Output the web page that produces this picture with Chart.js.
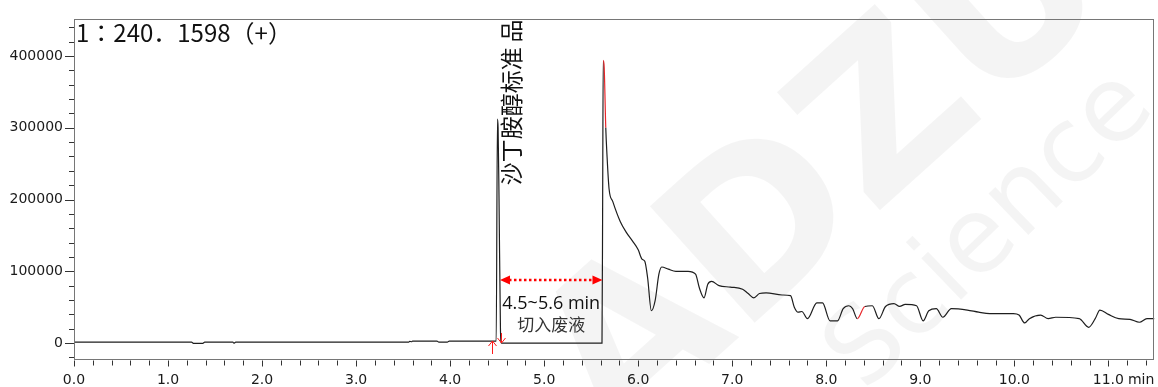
<!DOCTYPE html>
<html>
<head>
<meta charset="utf-8">
<script src="https://cdn.jsdelivr.net/npm/chart.js@4/dist/chart.umd.min.js"></script>
<style>
  html, body { margin: 0; padding: 0; background: #fff; }
  #wrap { width: 1158px; height: 387px; }
</style>
</head>
<body>
<div id="wrap"><canvas id="tic" width="1158" height="387"></canvas></div>
<script>
// retention time (min) and intensity of the ion trace
const times = [
  0, 1.25, 1.27, 1.37, 1.39, 1.69, 1.70, 1.72, 3.56, 3.57, 3.59, 3.60, 3.86, 3.88, 3.97, 3.99, 4.49,
  4.503, 4.51, 4.52, 4.535, 4.545, 5.615, 5.622, 5.628, 5.638, 5.655, 5.668, 5.69,
  5.73, 5.81, 5.87, 5.94, 6.00, 6.04, 6.07, 6.10, 6.14, 6.18,
  6.22, 6.25, 6.32, 6.40, 6.53, 6.61, 6.65, 6.70, 6.74, 6.78,
  6.86, 6.98, 7.11, 7.17, 7.23, 7.29, 7.36, 7.53, 7.62, 7.66,
  7.70, 7.74, 7.80, 7.90, 7.96, 8.04, 8.12, 8.18, 8.24, 8.28,
  8.33, 8.41, 8.49, 8.56, 8.63, 8.72, 8.78, 8.84, 8.96, 9.03,
  9.09, 9.17, 9.24, 9.33, 9.50, 9.62, 9.74, 9.99, 10.05, 10.11,
  10.16, 10.28, 10.36, 10.44, 10.69, 10.79, 10.86, 10.91, 11.00, 11.11,
  11.23, 11.33, 11.41, 11.49
];
const signal = [
  1200, 1200, -300, -300, 1200, 1200, -200, 1200, 1200, 2500, 1800, 2800, 2800, 1200, 1200, 2800, 2800,
  312000, 300000, 200000, 20000, 0, 0, 200000, 394000, 385000, 300000, 262000, 215000,
  197000, 169000, 155000, 142000, 130000, 117000, 114000, 91000, 45000, 59000,
  96000, 106000, 103000, 100000, 100000, 96000, 77000, 63000, 82000, 86000,
  80000, 78000, 75000, 69000, 63000, 69000, 70000, 67000, 66000, 50000,
  43000, 44000, 34000, 56000, 56000, 31000, 31000, 48000, 52000, 48000,
  34000, 51000, 52000, 34000, 51000, 55000, 51000, 54000, 52000, 31000,
  45000, 48000, 36000, 48000, 46000, 43000, 41000, 41000, 39000, 28000,
  34000, 39000, 34000, 36000, 34000, 22000, 34000, 46000, 40000, 34000,
  33000, 29000, 34000, 34000
];

const xRange = [0, 11.49];
const yRange = [-22900, 451000];
const xStep = 0.2;
const yStep = 20000;
const yLabelStep = 100000;
const xUnit = 'min';

const title = '1：240．1598（+）';
const peakLabel = '沙丁胺醇标准\u2009品';
const peakTime = 4.503;
const cutWindow = [4.53, 5.62];
const cutLevel = 88000;
const cutText = ['4.5~5.6 min', '切入废液'];
const markerTimes = [4.445, 4.545];
const redSpans = [[5.628, 5.645], [8.30, 8.34]];

const tickFont = { family: '"DejaVu Sans", sans-serif', size: 14 };

const inRed = v => redSpans.some(s => v >= s[0] && v < s[1]);

// evenly stepped ticks inside [min, max], rounded to kill float drift
function stepTicks(min, max, step) {
  const out = [];
  for (let k = Math.ceil(min / step - 1e-9); k * step <= max + 1e-9; k++) {
    out.push({ value: Math.round(k * step * 1e6) / 1e6 });
  }
  return out;
}

const watermark = {
  id: 'watermark',
  beforeDraw(chart) {
    const ctx = chart.ctx;
    ctx.save();
    ctx.fillStyle = 'rgba(0,0,0,0.042)';
    ctx.textAlign = 'center';
    ctx.textBaseline = 'middle';
    ctx.translate(830, 180);
    ctx.rotate(-42 * Math.PI / 180);
    ctx.font = 'bold 215px "DejaVu Sans", sans-serif';
    ctx.fillText('ADZU', 0, 0);
    ctx.restore();
    ctx.save();
    ctx.fillStyle = 'rgba(0,0,0,0.042)';
    ctx.textAlign = 'center';
    ctx.textBaseline = 'middle';
    ctx.translate(992, 232);
    ctx.rotate(-44 * Math.PI / 180);
    ctx.font = '105px "DejaVu Sans", sans-serif';
    ctx.fillText('Science', 0, 0);
    ctx.restore();
  }
};

const frame = {
  id: 'frame',
  afterDraw(chart) {
    const { ctx, chartArea: a, scales: { x, y } } = chart;
    ctx.save();

    // plot frame
    ctx.strokeStyle = '#767676';
    ctx.lineWidth = 1;
    ctx.strokeRect(Math.round(a.left) + 0.5, Math.round(a.top) + 0.5,
      Math.round(a.right - a.left) - 1, Math.round(a.bottom - a.top));

    // tick marks
    ctx.strokeStyle = '#333';
    ctx.beginPath();
    y.ticks.forEach(t => {
      const py = Math.round(y.getPixelForValue(t.value)) + 0.5;
      const len = t.value % yLabelStep === 0 ? 9 : 5;
      ctx.moveTo(a.left - len, py);
      ctx.lineTo(a.left, py);
    });
    const yb = Math.round(a.bottom) + 0.5;
    x.ticks.forEach(t => {
      const px = Math.round(x.getPixelForValue(t.value)) + 0.5;
      const len = Math.abs(t.value - Math.round(t.value)) < 1e-6 ? 6 : 5;
      ctx.moveTo(px, yb);
      ctx.lineTo(px, yb + len);
    });
    ctx.stroke();

    // unit after the last labelled tick
    ctx.font = `${tickFont.size}px ${tickFont.family}`;
    ctx.fillStyle = '#1a1a1a';
    ctx.textBaseline = 'middle';
    ctx.textAlign = 'left';
    const lx = x.getPixelForValue(11) + ctx.measureText('11.0').width / 2 + 4;
    ctx.fillText(xUnit, lx, a.bottom + 12 + 8.4);

    // ion label
    ctx.fillStyle = '#111';
    ctx.font = '24px "Noto Sans CJK JP", sans-serif';
    ctx.textAlign = 'left';
    ctx.textBaseline = 'alphabetic';
    ctx.fillText(title, a.left + 2, 42);

    // peak name, vertical
    ctx.save();
    ctx.translate(x.getPixelForValue(peakTime) + 14, y.getPixelForValue(220000));
    ctx.rotate(-Math.PI / 2);
    ctx.font = '23px "Noto Sans CJK SC", sans-serif';
    ctx.textBaseline = 'middle';
    ctx.textAlign = 'left';
    ctx.fillText(peakLabel, 0, 0);
    ctx.restore();

    // diverted window arrow
    const xa = x.getPixelForValue(cutWindow[0]);
    const xb = x.getPixelForValue(cutWindow[1]);
    const ya = y.getPixelForValue(cutLevel);
    ctx.strokeStyle = '#ff0000';
    ctx.fillStyle = '#ff0000';
    ctx.lineWidth = 2.5;
    ctx.setLineDash([2.5, 2.5]);
    ctx.beginPath();
    ctx.moveTo(xa + 9, ya);
    ctx.lineTo(xb - 9, ya);
    ctx.stroke();
    ctx.setLineDash([]);
    ctx.beginPath();
    ctx.moveTo(xa, ya); ctx.lineTo(xa + 10, ya - 4.5); ctx.lineTo(xa + 10, ya + 4.5); ctx.closePath();
    ctx.moveTo(xb, ya); ctx.lineTo(xb - 10, ya - 4.5); ctx.lineTo(xb - 10, ya + 4.5); ctx.closePath();
    ctx.fill();

    const xc = (xa + xb) / 2;
    ctx.fillStyle = '#111';
    ctx.textAlign = 'center';
    ctx.textBaseline = 'middle';
    ctx.font = '18px "Open Sans", sans-serif';
    ctx.fillText(cutText[0], xc, ya + 24);
    ctx.fillStyle = '#333';
    ctx.font = '17px "Noto Sans CJK SC", sans-serif';
    ctx.fillText(cutText[1], xc, ya + 45);

    // integration start/end markers
    ctx.strokeStyle = '#ff1a1a';
    ctx.lineWidth = 1;
    const y0 = Math.round(y.getPixelForValue(0));
    const m1 = Math.round(x.getPixelForValue(markerTimes[0])) + 0.5;
    const m2 = Math.round(x.getPixelForValue(markerTimes[1])) + 0.5;
    ctx.beginPath();
    ctx.moveTo(m1, y0 + 11); ctx.lineTo(m1, y0 - 2);
    ctx.moveTo(m1 - 4, y0 + 3); ctx.lineTo(m1, y0 - 2); ctx.lineTo(m1 + 4, y0 + 3);
    ctx.moveTo(m2, y0 - 10); ctx.lineTo(m2, y0);
    ctx.moveTo(m2 - 4, y0 - 5); ctx.lineTo(m2, y0); ctx.lineTo(m2 + 4, y0 - 5);
    ctx.stroke();

    ctx.restore();
  }
};

new Chart(document.getElementById('tic'), {
  type: 'line',
  data: {
    datasets: [{
      data: times.map((t, i) => ({ x: t, y: signal[i] })),
      borderColor: '#1e1e1e',
      borderWidth: 1.2,
      pointRadius: 0,
      cubicInterpolationMode: 'monotone',
      segment: { borderColor: c => inRed(c.p0.parsed.x) ? '#e8262a' : undefined }
    }]
  },
  options: {
    responsive: false,
    animation: false,
    devicePixelRatio: 1,
    layout: { padding: { top: 15, right: 1.5, left: 0, bottom: 0 } },
    plugins: { legend: { display: false }, tooltip: { enabled: false } },
    scales: {
      x: {
        type: 'linear',
        min: xRange[0],
        max: xRange[1],
        afterBuildTicks: s => { s.ticks = stepTicks(xRange[0], xRange[1], xStep); },
        afterFit: s => { s.height = 27.5; },
        border: { display: false },
        grid: { display: false, drawTicks: false },
        ticks: {
          autoSkip: false,
          maxRotation: 0,
          padding: 12,
          color: '#1a1a1a',
          font: tickFont,
          callback: v => Math.abs(v - Math.round(v)) < 1e-6 ? Math.round(v).toFixed(1) : ''
        }
      },
      y: {
        min: yRange[0],
        max: yRange[1],
        afterBuildTicks: s => { s.ticks = stepTicks(yRange[0], yRange[1], yStep); },
        afterFit: s => { s.width = 74; },
        border: { display: false },
        grid: { display: false, drawTicks: false },
        ticks: {
          autoSkip: false,
          padding: 11,
          color: '#1a1a1a',
          font: tickFont,
          callback: v => (v >= 0 && v % yLabelStep === 0) ? String(v) : ''
        }
      }
    }
  },
  plugins: [watermark, frame]
});
</script>
</body>
</html>
